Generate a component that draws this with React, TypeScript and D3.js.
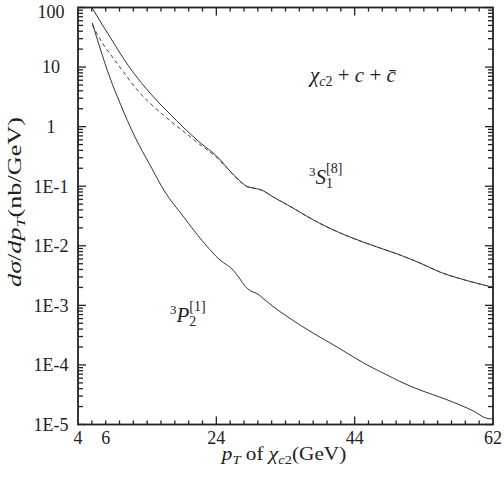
import React from "react";
import * as d3 from "d3";

// ---- data (x in axis units, y = dσ/dpT in nb/GeV) ----
const totalPt = [6.07, 7.18, 8.63, 10.07, 11.52, 12.96, 14.66, 15.86, 17.3, 19.18, 21.64, 24.1, 25.98, 27.42, 28.43, 29.3, 30.31, 32.48, 35.08, 37.54, 40.0, 43.33, 48.1, 50.56, 53.45, 56.34, 59.95, 64.0];
const totalSigma = [97.7, 59.3, 32.0, 17.2, 9.64, 5.83, 3.4, 2.4, 1.63, 0.986, 0.54, 0.315, 0.18, 0.122, 0.0989, 0.0933, 0.0881, 0.0634, 0.0431, 0.0292, 0.0207, 0.014, 0.00881, 0.007, 0.00513, 0.00362, 0.00266, 0.00201];

const s1Pt = [6.07, 6.93, 7.9, 8.87, 9.83, 10.8, 11.76, 12.96, 14.84, 16.82, 19.18, 21.64, 24.1, 25.98, 27.42, 28.43, 29.3, 30.31, 32.48, 35.08, 37.54, 40.0, 43.33, 48.1, 50.56, 53.45, 56.34, 59.95, 64.0];
const s1Sigma = [50.8, 33.2, 21.7, 15.3, 10.8, 7.66, 5.41, 3.67, 2.22, 1.4, 0.845, 0.5, 0.3, 0.177, 0.12, 0.0989, 0.0933, 0.0881, 0.0634, 0.0431, 0.0292, 0.0207, 0.014, 0.00881, 0.007, 0.00513, 0.00362, 0.00266, 0.00201];

const p2Pt = [6.07, 7.18, 8.63, 10.07, 12.24, 14.41, 16.58, 19.18, 21.64, 24.53, 26.41, 27.42, 28.14, 29.01, 29.88, 31.04, 32.19, 33.93, 36.1, 38.7, 41.45, 44.05, 46.22, 48.67, 50.55, 53.45, 57.06, 60.24, 61.69, 62.55, 63.28, 64.0];
const p2Sigma = [55.0, 20.9, 6.56, 2.49, 0.67, 0.227, 0.08, 0.0316, 0.0135, 0.00577, 0.00392, 0.00277, 0.00211, 0.00174, 0.00158, 0.00123, 0.000957, 0.000689, 0.000468, 0.000306, 0.0002, 0.000131, 0.0000942, 0.0000678, 0.0000527, 0.0000379, 0.0000268, 0.0000189, 0.0000156, 0.0000134, 0.0000126, 0.0000124];

const xTickValues = [4, 8, 24, 44, 64];
const xTickLabels = ["4", "6", "24", "44", "62"];
const yTickValues = [100, 10, 1, 0.1, 0.01, 0.001, 1e-4, 1e-5];
const yTickLabels = ["100", "10", "1", "1E-1", "1E-2", "1E-3", "1E-4", "1E-5"];

const FONT = '"Liberation Serif", "Times New Roman", serif';
const INK = "#222";

export default function App() {
  const x = d3.scaleLinear().domain([4, 64]).range([78, 493]);
  const y = d3.scaleLog().domain([1e-5, 100]).range([424.5, 7.5]);
  const [x0, x1] = x.range();
  const [yb, yt] = y.range();

  const line = d3
    .line<[number, number]>()
    .x((d) => x(d[0]))
    .y((d) => y(d[1]))
    .curve(d3.curveMonotoneX);

  const zip = (a: number[], b: number[]) => a.map((v, i) => [v, b[i]] as [number, number]);

  const xMinor = d3.range(6, 64, 2);
  const xMajor = [24, 44];
  const yMinor: number[] = [];
  for (let e = -5; e < 2; e++) for (let m = 2; m <= 9; m++) yMinor.push(m * Math.pow(10, e));

  return (
    <svg width={504} height={477} style={{ position: "absolute", left: 0, top: 0, background: "#fff" }} fontFamily={FONT}>
      <defs>
        <clipPath id="plot">
          <rect x={x0} y={yt} width={x1 - x0} height={yb - yt} />
        </clipPath>
      </defs>
      <rect x={0} y={0} width={504} height={477} fill="#fff" />

      {/* curves */}
      <g clipPath="url(#plot)" fill="none">
        <path d={line(zip(totalPt, totalSigma)) || ""} stroke="#333" strokeWidth={1} />
        <path d={line(zip(s1Pt, s1Sigma)) || ""} stroke="#444" strokeWidth={1} strokeDasharray="4 3" />
        <path d={line(zip(p2Pt, p2Sigma)) || ""} stroke="#333" strokeWidth={1} />
      </g>

      {/* ticks */}
      <g stroke={INK} strokeWidth={1.3}>
        {xMinor.map((v) => {
          const len = xMajor.includes(v) ? 8 : 4;
          return (
            <g key={"xt" + v}>
              <line x1={x(v)} x2={x(v)} y1={yb} y2={yb - len} />
              <line x1={x(v)} x2={x(v)} y1={yt} y2={yt + len} />
            </g>
          );
        })}
        {yMinor.map((v) => (
          <g key={"ym" + v}>
            <line x1={x0} x2={x0 + 5} y1={y(v)} y2={y(v)} />
            <line x1={x1} x2={x1 - 5} y1={y(v)} y2={y(v)} />
          </g>
        ))}
        {yTickValues.map((v) => (
          <g key={"yM" + v}>
            <line x1={x0} x2={x0 + 8} y1={y(v)} y2={y(v)} />
            <line x1={x1} x2={x1 - 8} y1={y(v)} y2={y(v)} />
          </g>
        ))}
      </g>

      {/* frame */}
      <rect x={x0} y={yt} width={x1 - x0} height={yb - yt} fill="none" stroke={INK} strokeWidth={1.8} />

      {/* tick labels */}
      <g fontSize={18} fill={INK} fontFamily={FONT}>
        {yTickValues.map((v, i) => (
          <text key={"yl" + v} x={51} y={Math.max(y(v), 12)} dy="0.35em" textAnchor="middle">
            {yTickLabels[i]}
          </text>
        ))}
        {xTickValues.map((v, i) => (
          <text key={"xl" + v} x={x(v)} y={443.5} textAnchor="middle">
            {xTickLabels[i]}
          </text>
        ))}
      </g>

      {/* x title */}
      <g transform="translate(284,460) scale(1.12,1)" fill={INK}>
        <text x={0} y={0} fontSize={19} textAnchor="middle" fontFamily={FONT}>
          <tspan fontStyle="italic">p</tspan>
          <tspan fontStyle="italic" fontSize={13} dy={4}>T</tspan>
          <tspan dy={-4}>{" of "}</tspan>
          <tspan fontStyle="italic">χ</tspan>
          <tspan fontStyle="italic" fontSize={13} dy={4}>c</tspan>
          <tspan fontSize={13}>2</tspan>
          <tspan dy={-4}>(GeV)</tspan>
        </text>
      </g>

      {/* y title */}
      <g transform="translate(21,202) rotate(-90) scale(1.38,1)" fill={INK}>
        <text x={0} y={0} fontSize={19} textAnchor="middle" fontFamily={FONT}>
          <tspan fontStyle="italic">dσ</tspan>
          <tspan>/</tspan>
          <tspan fontStyle="italic">dp</tspan>
          <tspan fontStyle="italic" fontSize={13} dy={4}>T</tspan>
          <tspan dy={-4}>(nb/GeV)</tspan>
        </text>
      </g>

      {/* annotations */}
      <text x={310} y={82} fontSize={21} fill={INK} fontFamily={FONT}>
        <tspan fontStyle="italic">χ</tspan>
        <tspan fontStyle="italic" fontSize={14} dy={4}>c</tspan>
        <tspan fontSize={14}>2</tspan>
        <tspan dy={-4}>{" + "}</tspan>
        <tspan fontStyle="italic">c</tspan>
        <tspan>{" + "}</tspan>
        <tspan fontStyle="italic">{"c\u0304"}</tspan>
      </text>

      <text x={309} y={184} fontSize={21} fill={INK} fontFamily={FONT}>
        <tspan fontSize={13} dy={-8}>3</tspan>
        <tspan fontStyle="italic" dy={8}>S</tspan>
        <tspan fontSize={14} dy={4}>1</tspan>
        <tspan fontSize={14} dx={-7} dy={-15}>[8]</tspan>
      </text>

      <text x={170} y={322} fontSize={21} fill={INK} fontFamily={FONT}>
        <tspan fontSize={13} dy={-8}>3</tspan>
        <tspan fontStyle="italic" dy={8}>P</tspan>
        <tspan fontSize={14} dy={4}>2</tspan>
        <tspan fontSize={14} dx={-7} dy={-15}>[1]</tspan>
      </text>
    </svg>
  );
}
